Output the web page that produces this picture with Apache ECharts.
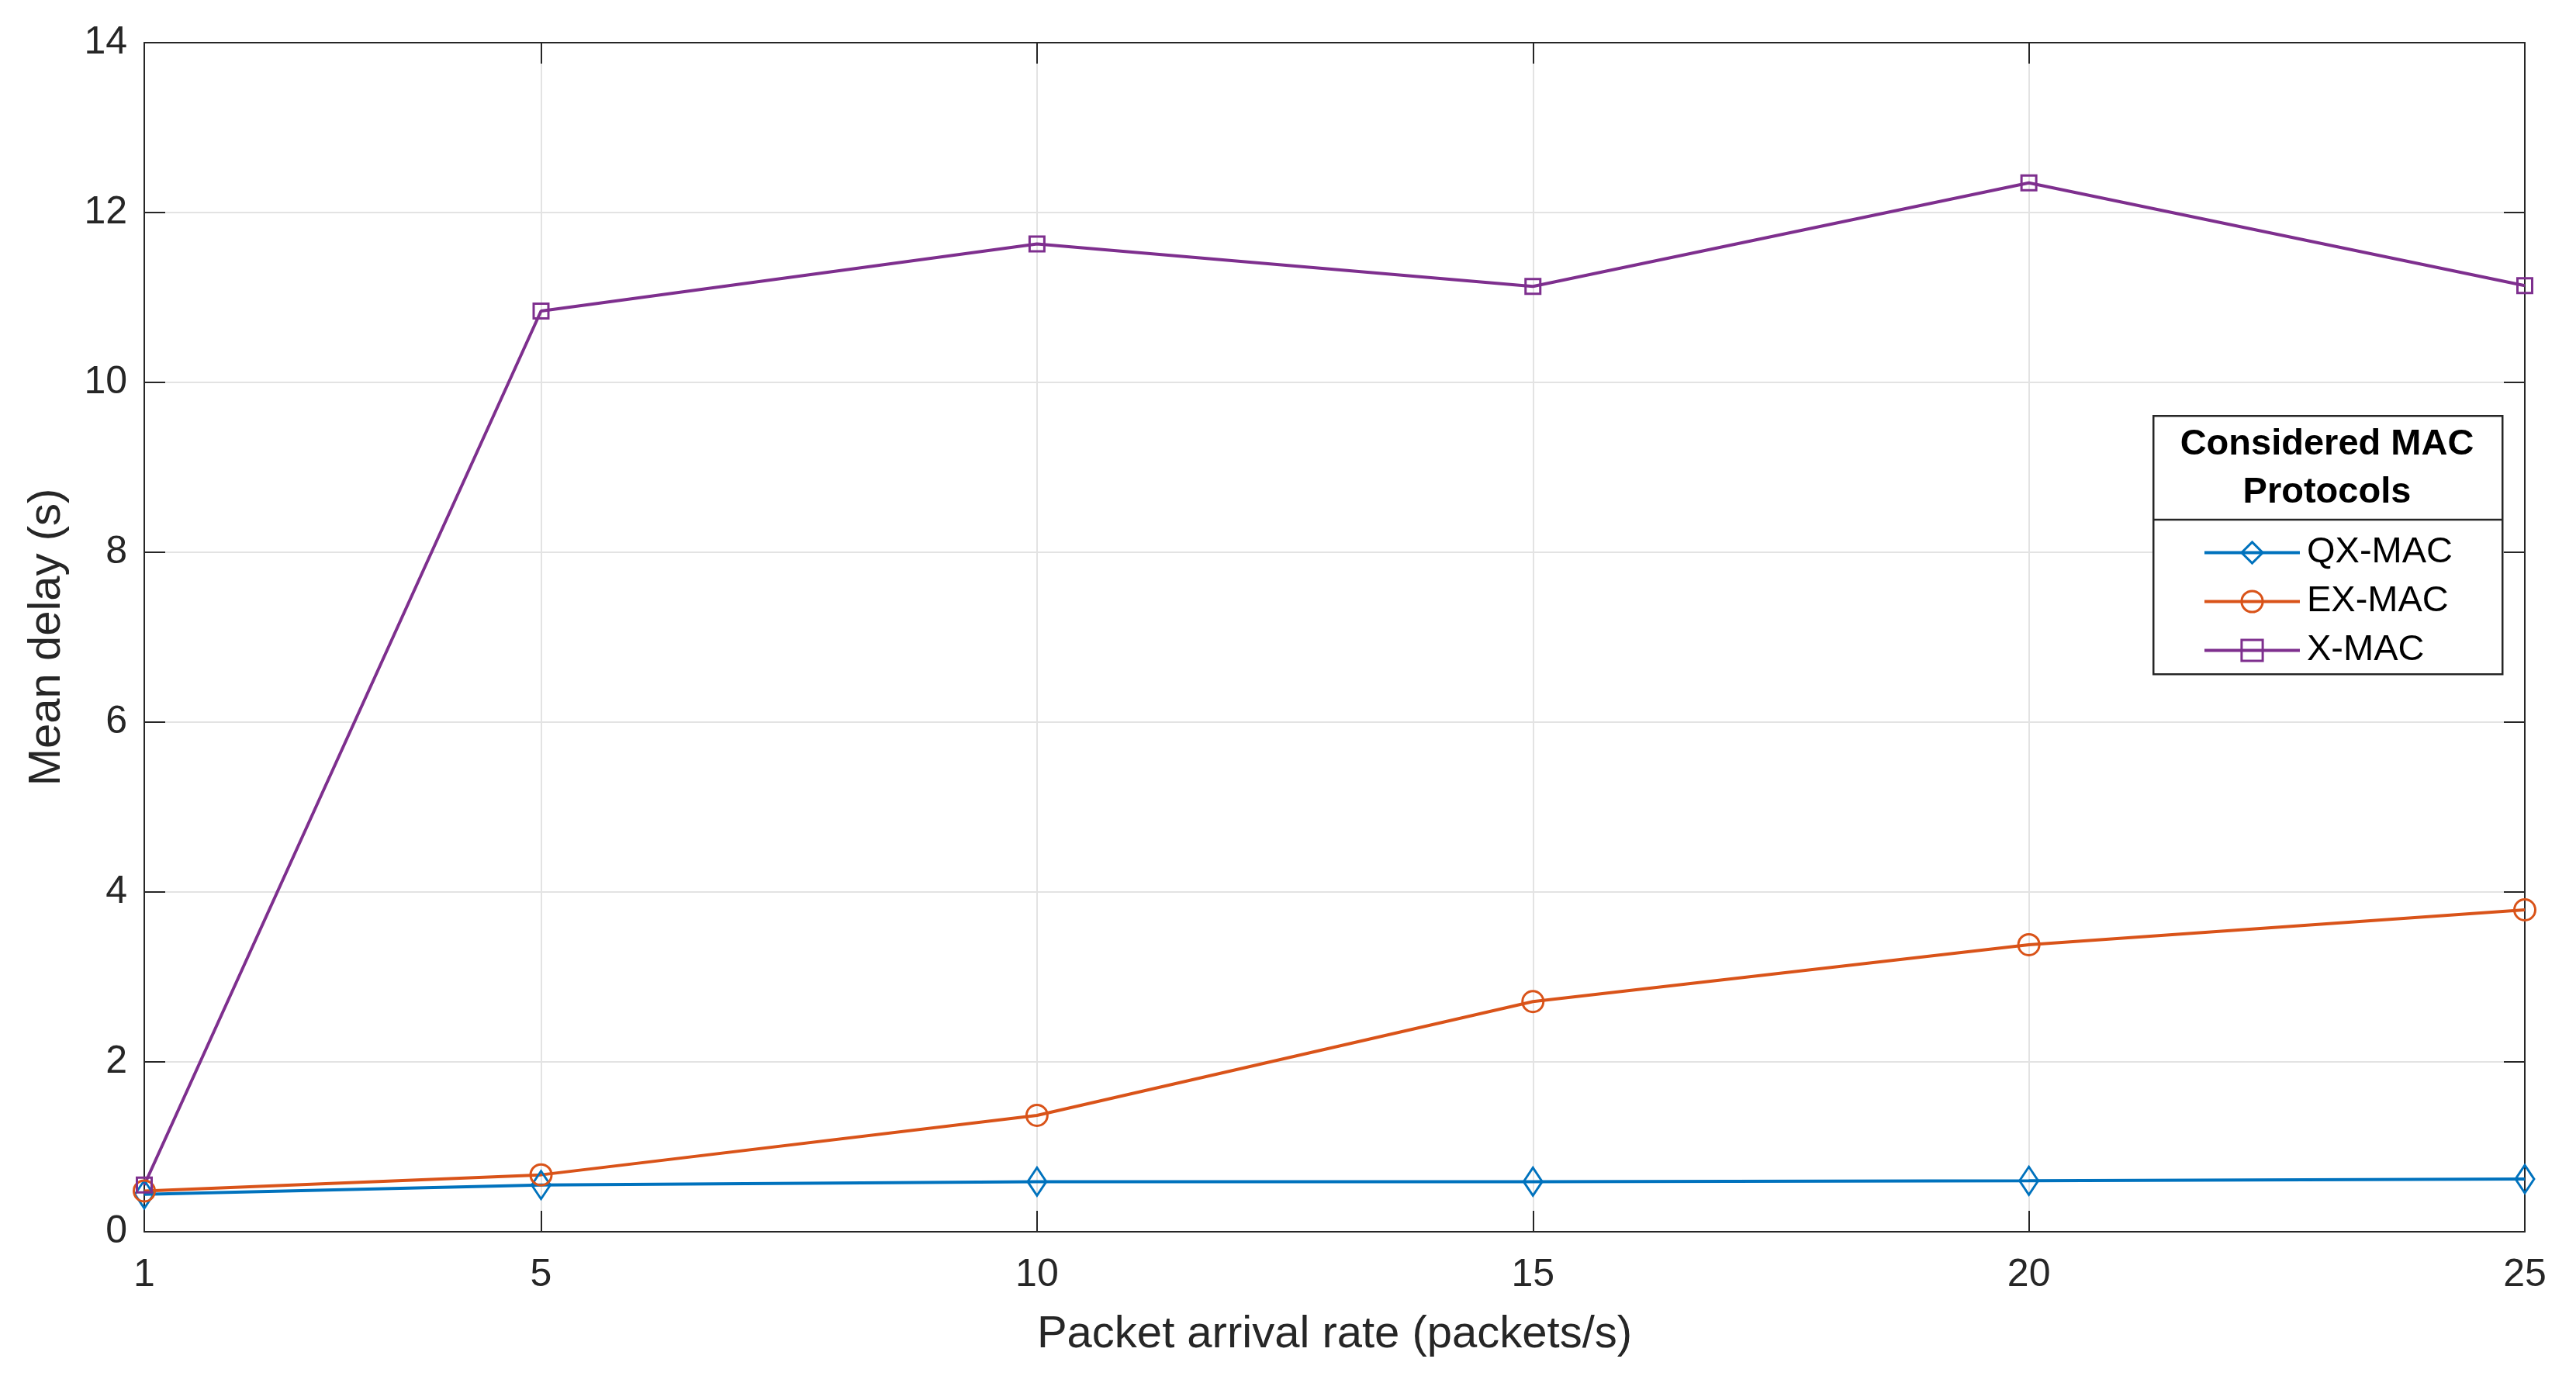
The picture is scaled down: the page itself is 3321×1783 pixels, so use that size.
<!DOCTYPE html>
<html>
<head>
<meta charset="utf-8">
<script src="https://cdn.jsdelivr.net/npm/echarts@6/dist/echarts.min.js"></script>
<style>
html,body{margin:0;padding:0;background:#fff;}
#chart{width:3321px;height:1783px;}
</style>
</head>
<body>
<div id="chart"></div>
<script>
const xValues = [1, 5, 10, 15, 20, 25];
const xTicks = [1, 5, 10, 15, 20, 25];
const qxMac = [0.44, 0.55, 0.59, 0.59, 0.60, 0.62];
const exMac = [0.48, 0.67, 1.37, 2.71, 3.38, 3.79];
const xMac = [0.55, 10.84, 11.63, 11.13, 12.35, 11.14];
const seriesNames = ['QX-MAC', 'EX-MAC', 'X-MAC'];
const legendTitle = 'Considered MAC\nProtocols';
const xTitle = 'Packet arrival rate (packets/s)';
const yTitle = 'Mean delay (s)';

const colors = ['#0072BD', '#D95319', '#7E2F8E'];
const FONT = '"Liberation Sans", Arial, Helvetica, sans-serif';
const axisColor = '#262626';

function pairs(vals) { return xValues.map((x, i) => [x, vals[i]]); }

function mkSeries(name, vals, color, symbol, size) {
  return {
    name: name,
    type: 'line',
    data: pairs(vals),
    symbol: symbol,
    symbolSize: size,
    showSymbol: true,
    lineStyle: { color: color, width: 4 },
    itemStyle: { color: 'rgba(0,0,0,0)', borderColor: color, borderWidth: 3 },
    emphasis: { disabled: true },
    z: 3
  };
}

const chart = echarts.init(document.getElementById('chart'));
chart.setOption({
  animation: false,
  backgroundColor: '#ffffff',
  textStyle: { fontFamily: FONT },
  grid: { left: 186, right: 66, top: 55, bottom: 195, containLabel: false },
  xAxis: [{
    type: 'value', min: 1, max: 25,
    name: xTitle, nameLocation: 'middle', nameGap: 104,
    nameTextStyle: { fontSize: 58, color: axisColor, fontFamily: FONT },
    axisLine: { show: true, onZero: false, lineStyle: { color: axisColor, width: 2 } },
    axisTick: { show: true, inside: true, length: 27, customValues: xTicks, lineStyle: { color: axisColor, width: 2 } },
    axisLabel: { show: true, customValues: xTicks, fontSize: 50, color: axisColor, margin: 31, fontFamily: FONT },
    splitLine: { show: true, lineStyle: { color: '#e3e3e3', width: 2 } }
  }, {
    type: 'value', min: 1, max: 25, position: 'top',
    axisLine: { show: true, onZero: false, lineStyle: { color: axisColor, width: 2 } },
    axisTick: { show: true, inside: true, length: 27, customValues: xTicks, lineStyle: { color: axisColor, width: 2 } },
    axisLabel: { show: false },
    splitLine: { show: false }
  }],
  yAxis: [{
    type: 'value', min: 0, max: 14, interval: 2,
    name: yTitle, nameLocation: 'middle', nameGap: 96,
    nameTextStyle: { fontSize: 58, color: axisColor, fontFamily: FONT },
    axisLine: { show: true, onZero: false, lineStyle: { color: axisColor, width: 2 } },
    axisTick: { show: true, inside: true, length: 27, lineStyle: { color: axisColor, width: 2 } },
    axisLabel: { fontSize: 50, color: axisColor, margin: 22, fontFamily: FONT },
    splitLine: { show: true, lineStyle: { color: '#e3e3e3', width: 2 } }
  }, {
    type: 'value', min: 0, max: 14, interval: 2, position: 'right',
    axisLine: { show: true, onZero: false, lineStyle: { color: axisColor, width: 2 } },
    axisTick: { show: true, inside: true, length: 27, lineStyle: { color: axisColor, width: 2 } },
    axisLabel: { show: false },
    splitLine: { show: false }
  }],
  legend: {
    orient: 'vertical',
    left: 2835, top: 684,
    itemWidth: 123, itemHeight: 34, itemGap: 16,
    lineStyle: { width: 4 },
    itemStyle: { borderWidth: 3 },
    textStyle: { fontSize: 47, color: '#000', fontFamily: FONT, padding: [0, 0, 0, 4] },
    data: seriesNames,
    selectedMode: false,
    z: 10
  },
  graphic: [
    { type: 'rect', left: 2775, top: 535, z: 5,
      shape: { width: 450, height: 333 },
      style: { fill: '#fff', stroke: axisColor, lineWidth: 2.5 } },
    { type: 'line', z: 6,
      shape: { x1: 2775, y1: 670, x2: 3225, y2: 670 },
      style: { stroke: axisColor, lineWidth: 2.5 } },
    { type: 'text', z: 7, x: 3000, y: 542,
      style: { text: legendTitle, fontSize: 47, fontWeight: 'bold', fill: '#000',
               fontFamily: FONT, align: 'center', verticalAlign: 'top', lineHeight: 62 } }
  ],
  series: [
    mkSeries(seriesNames[0], qxMac, colors[0], 'diamond', [24, 36]),
    mkSeries(seriesNames[1], exMac, colors[1], 'circle', 27),
    mkSeries(seriesNames[2], xMac, colors[2], 'rect', 19)
  ]
});
</script>
</body>
</html>
